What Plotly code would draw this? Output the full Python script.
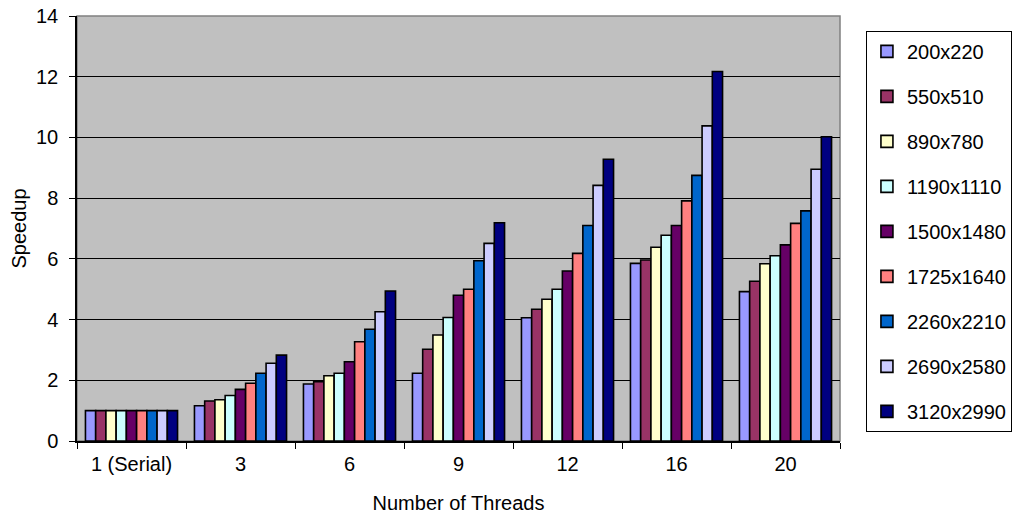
import plotly.graph_objects as go

threads = ["1 (Serial)", "3", "6", "9", "12", "16", "20"]
sizes = ["200x220", "550x510", "890x780", "1190x1110", "1500x1480",
         "1725x1640", "2260x2210", "2690x2580", "3120x2990"]
colors = ["#9999FF", "#993366", "#FFFFCC", "#CCFFFF", "#660066",
          "#FF8080", "#0066CC", "#CCCCFF", "#000080"]

# speedup per grid size, one value per thread count
s200x220 = [1.0, 1.16, 1.88, 2.23, 4.06, 5.85, 4.92]
s550x510 = [1.0, 1.32, 1.95, 3.02, 4.34, 5.96, 5.26]
s890x780 = [1.0, 1.36, 2.15, 3.49, 4.67, 6.38, 5.84]
s1190x1110 = [1.0, 1.50, 2.23, 4.07, 5.00, 6.78, 6.10]
s1500x1480 = [1.0, 1.70, 2.61, 4.80, 5.60, 7.10, 6.46]
s1725x1640 = [1.0, 1.90, 3.27, 5.00, 6.18, 7.91, 7.17]
s2260x2210 = [1.0, 2.23, 3.68, 5.94, 7.10, 8.75, 7.58]
s2690x2580 = [1.0, 2.56, 4.26, 6.51, 8.42, 10.38, 8.95]
s3120x2990 = [1.0, 2.83, 4.94, 7.19, 9.28, 12.17, 10.02]

series = [s200x220, s550x510, s890x780, s1190x1110, s1500x1480,
          s1725x1640, s2260x2210, s2690x2580, s3120x2990]

fig = go.Figure()
for name, vals, col in zip(sizes, series, colors):
    fig.add_trace(go.Bar(
        x=threads, y=vals, name=name, legendgroup=name,
        marker=dict(color=col, line=dict(color="black", width=1.6)),
    ))

font = "Liberation Sans, Arial, sans-serif"
fig.update_layout(
    width=1027, height=519,
    margin=dict(l=77, r=187, t=16, b=78),
    paper_bgcolor="white", plot_bgcolor="#C0C0C0",
    barmode="group", bargap=0.155, bargroupgap=0,
    font=dict(family=font, size=20, color="black"),
    showlegend=True,
    legend=dict(
        x=1.034, y=0.965, xanchor="left", yanchor="top",
        bordercolor="black", borderwidth=1, bgcolor="white",
        traceorder="grouped", tracegroupgap=16,
        font=dict(family=font, size=20),
        itemwidth=30, entrywidth=160,
    ),
    xaxis=dict(
        title=dict(text="Number of Threads", standoff=22, font=dict(size=20)),
        tickson="boundaries", ticks="outside", ticklen=6, tickcolor="black",
        showline=True, linecolor="black", linewidth=1.5, automargin=False,
        showgrid=False, tickfont=dict(size=20), ticklabelstandoff=4,
    ),
    yaxis=dict(
        title=dict(text="Speedup", standoff=4, font=dict(size=20)),
        range=[0, 14], dtick=2, ticks="outside", ticklen=6, tickcolor="black",
        showline=True, linecolor="black", linewidth=1.5, automargin=False,
        showgrid=True, gridcolor="black", gridwidth=1.2,
        zeroline=False, tickfont=dict(size=20), ticklabelstandoff=7,
    ),
)
# plot area frame
fig.add_shape(type="rect", xref="paper", yref="paper", x0=0, x1=1, y0=0, y1=1,
              line=dict(color="#808080", width=1.5), layer="below")

fig.write_html("out.html")
